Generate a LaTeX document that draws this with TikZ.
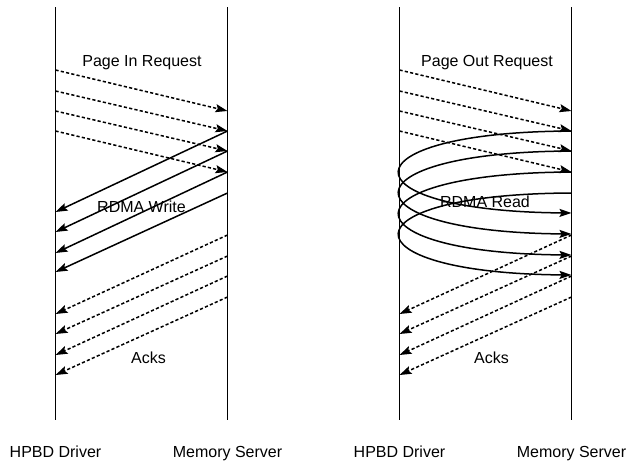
\documentclass[tikz,border=0pt]{standalone}
\usepackage{fontspec}
\setmainfont{Liberation Sans}
\usetikzlibrary{arrows.meta}
\begin{document}
\begin{tikzpicture}[x=1pt,y=-1pt,
  lifeline/.style={line width=1.5pt},
  msg/.style={line width=1.5pt,-{Stealth[length=12pt,width=8pt,inset=2pt]}},
  dmsg/.style={msg,dash pattern=on 3.2pt off 2.2pt},
  lbl/.style={anchor=base,font=\fontsize{16}{18}\selectfont,inner sep=0pt}]
\useasboundingbox (0,0) rectangle (636,461);
% lifelines
\foreach \n/\x in {A/55.5,B/227.5,C/399.5,D/571.5}{
  \coordinate (\n top) at (\x,7);
  \coordinate (\n bot) at (\x,420);
  \draw[lifeline] (\n top) -- (\n bot);
  \foreach \y in {70,91,111,131,151,172,193,212,213,232,234,235,253,255,256,272,275,276,297,314,334,355,375}{
    \coordinate (\n\y) at (\x,\y);
  }
}
\node[lbl] (l1) at (55.5,457) {HPBD Driver};
\node[lbl] (l2) at (227.5,457) {Memory Server};
\node[lbl] (l3) at (399.5,457) {HPBD Driver};
\node[lbl] (l4) at (571.5,457) {Memory Server};
% left: page in
\draw[dmsg] (A70) -- (B111);
\draw[dmsg] (A91) -- (B131);
\draw[dmsg] (A111) -- (B151);
\draw[dmsg] (A131) -- (B172);
\draw[msg] (B131) -- (A212);
\draw[msg] (B151) -- (A232);
\draw[msg] (B172) -- (A253);
\draw[msg] (B193) -- (A272);
\draw[dmsg] (B235) -- (A314);
\draw[dmsg] (B256) -- (A334);
\draw[dmsg] (B276) -- (A355);
\draw[dmsg] (B297) -- (A375);
\node[lbl] (t1) at (142,66) {Page In Request};
\node[lbl] (t2) at (141.5,212) {RDMA Write};
\node[lbl] (t3) at (148.5,363) {Acks};
% right: page out
\draw[dmsg] (C70) -- (D111);
\draw[dmsg] (C91) -- (D131);
\draw[dmsg] (C111) -- (D151);
\draw[dmsg] (C131) -- (D172);
\draw[msg] (D131) .. controls (342,132) and (342,211) .. (D213);
\draw[msg] (D151) .. controls (342,152) and (342,232) .. (D234);
\draw[msg] (D172) .. controls (342,173) and (342,253) .. (D255);
\draw[msg] (D193) .. controls (342,194) and (342,273) .. (D275);
\draw[dmsg] (D235) -- (C314);
\draw[dmsg] (D256) -- (C334);
\draw[dmsg] (D276) -- (C355);
\draw[dmsg] (D297) -- (C375);
\node[lbl] (t4) at (487,66) {Page Out Request};
\node[lbl] (t5) at (485,207) {RDMA Read};
\node[lbl] (t6) at (491.5,363) {Acks};
\end{tikzpicture}
\end{document}
